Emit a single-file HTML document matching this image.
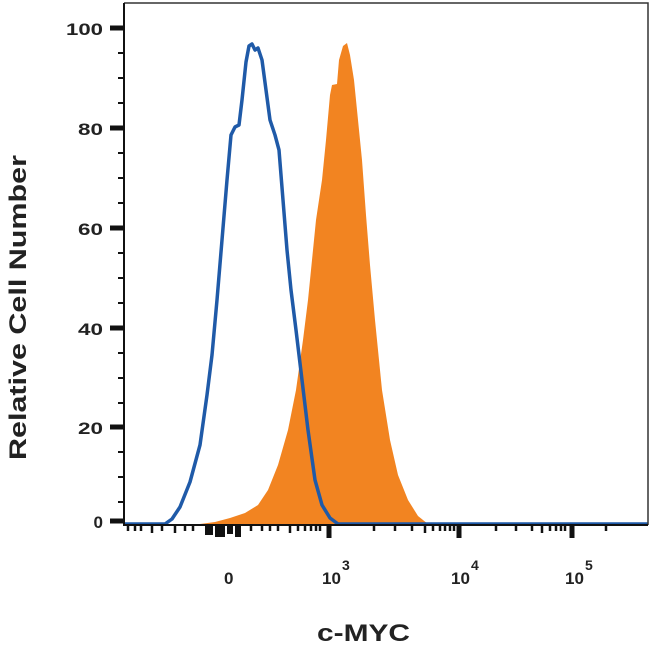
<!DOCTYPE html>
<html><head><style>
body{margin:0;background:#fff;}
text{font-family:"Liberation Sans",sans-serif;font-weight:bold;fill:#222;}
</style></head><body>
<svg width="650" height="652" viewBox="0 0 650 652" xmlns="http://www.w3.org/2000/svg">
<path d="M200,524 L215,522 L230,518 L245,513 L258,505 L268,490 L278,465 L288,430 L296,390 L303,340 L308,300 L312,260 L316,220 L322,180 L326,140 L330,95 L332,85 L337,84 L339,60 L343,46 L347,43 L350,55 L354,80 L358,120 L362,160 L366,215 L370,265 L375,320 L382,390 L390,440 L398,475 L408,500 L418,516 L428,524 Z" fill="#f28421"/>
<path d="M124,524 L165,524 L172,519 L180,507 L190,482 L200,445 L207,395 L212,355 L217,300 L222,240 L227,180 L231,135 L235,127 L239,125 L242,100 L246,62 L249,46 L252,44 L255,50 L258,48 L262,60 L266,90 L270,120 L275,135 L279,150 L283,200 L287,250 L291,290 L296,330 L302,380 L308,430 L315,480 L322,505 L330,518 L338,524 L648,524" fill="none" stroke="#1f5aa8" stroke-width="3.5" stroke-linejoin="round"/>
<path d="M124,3 L648,3 L648,525" fill="none" stroke="#333" stroke-width="1.5"/>
<path d="M124,3 L124,525 L648,525" fill="none" stroke="#111" stroke-width="2"/>
<g stroke="#111" stroke-width="5">
<line x1="110" y1="28" x2="124" y2="28"/><line x1="110" y1="128" x2="124" y2="128"/>
<line x1="110" y1="228" x2="124" y2="228"/><line x1="110" y1="328" x2="124" y2="328"/>
<line x1="110" y1="427" x2="124" y2="427"/><line x1="110" y1="521" x2="124" y2="521"/>
</g>
<g stroke="#111" stroke-width="2">
<line x1="118" y1="53" x2="124" y2="53"/><line x1="118" y1="78" x2="124" y2="78"/><line x1="118" y1="103" x2="124" y2="103"/>
<line x1="118" y1="153" x2="124" y2="153"/><line x1="118" y1="178" x2="124" y2="178"/><line x1="118" y1="203" x2="124" y2="203"/>
<line x1="118" y1="253" x2="124" y2="253"/><line x1="118" y1="278" x2="124" y2="278"/><line x1="118" y1="303" x2="124" y2="303"/>
<line x1="118" y1="353" x2="124" y2="353"/><line x1="118" y1="378" x2="124" y2="378"/><line x1="118" y1="403" x2="124" y2="403"/>
<line x1="118" y1="452" x2="124" y2="452"/><line x1="118" y1="477" x2="124" y2="477"/><line x1="118" y1="502" x2="124" y2="502"/>
</g>
<g stroke="#111" stroke-width="2.5">
<line x1="128" y1="525" x2="128" y2="531"/><line x1="135" y1="525" x2="135" y2="531"/><line x1="141" y1="525" x2="141" y2="531"/><line x1="152" y1="525" x2="152" y2="533"/><line x1="162" y1="525" x2="162" y2="531"/><line x1="175" y1="525" x2="175" y2="533"/><line x1="185" y1="525" x2="185" y2="531"/><line x1="193" y1="525" x2="193" y2="531"/>
<line x1="251" y1="525" x2="251" y2="531"/><line x1="262" y1="525" x2="262" y2="531"/><line x1="270" y1="525" x2="270" y2="531"/><line x1="278" y1="525" x2="278" y2="531"/><line x1="290" y1="525" x2="290" y2="533"/><line x1="298" y1="525" x2="298" y2="531"/><line x1="305" y1="525" x2="305" y2="531"/><line x1="311" y1="525" x2="311" y2="531"/><line x1="316" y1="525" x2="316" y2="531"/><line x1="320" y1="525" x2="320" y2="531"/>
<line x1="374" y1="525" x2="374" y2="531"/><line x1="395" y1="525" x2="395" y2="531"/><line x1="412" y1="525" x2="412" y2="531"/><line x1="425" y1="525" x2="425" y2="533"/><line x1="433" y1="525" x2="433" y2="531"/><line x1="440" y1="525" x2="440" y2="531"/><line x1="445" y1="525" x2="445" y2="531"/><line x1="450" y1="525" x2="450" y2="531"/><line x1="454" y1="525" x2="454" y2="531"/>
<line x1="496" y1="525" x2="496" y2="531"/><line x1="516" y1="525" x2="516" y2="531"/><line x1="532" y1="525" x2="532" y2="531"/><line x1="542" y1="525" x2="542" y2="533"/><line x1="550" y1="525" x2="550" y2="531"/><line x1="556" y1="525" x2="556" y2="531"/><line x1="561" y1="525" x2="561" y2="531"/><line x1="565" y1="525" x2="565" y2="531"/>
<line x1="606" y1="525" x2="606" y2="531"/>
</g>
<g fill="#111">
<rect x="205" y="525" width="8" height="10"/><rect x="215" y="525" width="10" height="12"/><rect x="227" y="525" width="6" height="9"/><rect x="235" y="525" width="6" height="12"/>
</g>
<g stroke="#111" stroke-width="5">
<line x1="329" y1="525" x2="329" y2="538"/><line x1="459" y1="525" x2="459" y2="538"/><line x1="572" y1="525" x2="572" y2="538"/>
</g>
<g font-size="17" text-anchor="end">
<text x="103" y="35" textLength="37" lengthAdjust="spacingAndGlyphs">100</text>
<text x="103" y="135" textLength="25" lengthAdjust="spacingAndGlyphs">80</text>
<text x="103" y="235" textLength="25" lengthAdjust="spacingAndGlyphs">60</text>
<text x="103" y="335" textLength="25" lengthAdjust="spacingAndGlyphs">40</text>
<text x="103" y="434" textLength="25" lengthAdjust="spacingAndGlyphs">20</text>
<text x="103" y="528">0</text>
</g>
<g font-size="17">
<text x="224" y="584">0</text>
<text x="322" y="584">10</text><text x="342" y="570" font-size="14">3</text>
<text x="451" y="584">10</text><text x="471" y="570" font-size="14">4</text>
<text x="565" y="584">10</text><text x="585" y="570" font-size="14">5</text>
</g>
<text x="317" y="641" font-size="24" textLength="93" lengthAdjust="spacingAndGlyphs">c-MYC</text>
<text transform="translate(26,460) rotate(-90)" font-size="24" textLength="305" lengthAdjust="spacingAndGlyphs">Relative Cell Number</text>
</svg>
</body></html>
